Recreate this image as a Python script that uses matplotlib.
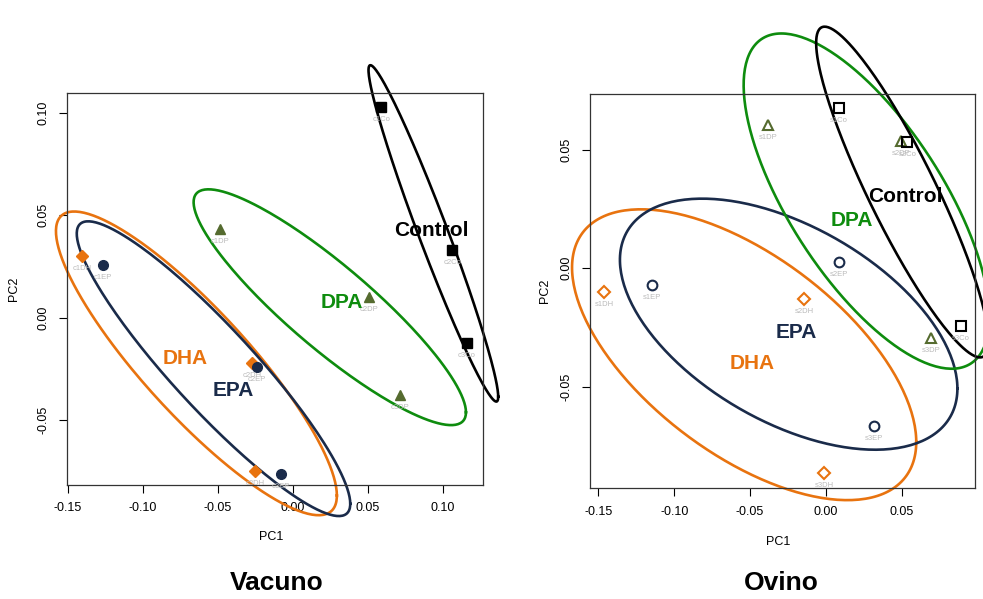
import numpy as np
import matplotlib
matplotlib.use('Agg')
import matplotlib.pyplot as plt

plt.rcParams['font.family'] = ['Liberation Sans', 'DejaVu Sans']

# group colours
col = {'DHA': '#E8730F', 'EPA': '#1A2B4A', 'DPA': '#0E8C0E', 'Control': '#000000'}
pt_col = {'DHA': '#E8730F', 'EPA': '#1A2B4A', 'DPA': '#556B2F', 'Control': '#000000'}

# --- Vacuno (PC1, PC2 per sample) ---
vac_groups = ['DHA', 'EPA', 'DPA', 'Control']
vac_names = {'DHA': ['c1DH', 'c2DH', 'c3DH'], 'EPA': ['c1EP', 'c2EP', 'c3EP'],
             'DPA': ['c1DP', 'c2DP', 'c3DP'], 'Control': ['c1Co', 'c2Co', 'c3Co']}
vac_pc1 = {'DHA': [-0.1409, -0.0271, -0.0253], 'EPA': [-0.1269, -0.0242, -0.0080],
           'DPA': [-0.0487, 0.0509, 0.0713], 'Control': [0.0587, 0.1062, 0.1158]}
vac_pc2 = {'DHA': [0.0299, -0.0220, -0.0749], 'EPA': [0.0255, -0.0241, -0.0762],
           'DPA': [0.0430, 0.0101, -0.0379], 'Control': [0.1028, 0.0329, -0.0124]}
vac_lab_pos = {'Control': (0.092, 0.0426), 'DPA': (0.0327, 0.0075),
               'DHA': (-0.072, -0.0198), 'EPA': (-0.040, -0.0355)}

# --- Ovino ---
ovi_names = {'DHA': ['s1DH', 's2DH', 's3DH'], 'EPA': ['s1EP', 's2EP', 's3EP'],
             'DPA': ['s1DP', 's2DP', 's3DP'], 'Control': ['s1Co', 's2Co', 's3Co']}
ovi_pc1 = {'DHA': [-0.1462, -0.0145, -0.0011], 'EPA': [-0.1144, 0.0088, 0.0318],
           'DPA': [-0.0384, 0.0492, 0.0692], 'Control': [0.0086, 0.0536, 0.0887]}
ovi_pc2 = {'DHA': [-0.0099, -0.0130, -0.0866], 'EPA': [-0.0071, 0.0028, -0.0665],
           'DPA': [0.0605, 0.0539, -0.0293], 'Control': [0.0676, 0.0532, -0.0242]}
ovi_lab_pos = {'Control': (0.052, 0.0305), 'DPA': (0.0171, 0.0200),
               'EPA': (-0.0198, -0.0273), 'DHA': (-0.0487, -0.0400)}

filled = {'DHA': 'D', 'EPA': 'o', 'DPA': '^', 'Control': 's'}


def ellipse(x, y, r=np.sqrt(2)):
    # data ellipse (car::dataEllipse style, level 0.5)
    c = np.cov(x, y)
    L = np.linalg.cholesky(c)
    t = np.linspace(0, 2 * np.pi, 240)
    ctr = np.array([np.mean(x), np.mean(y)])[:, None]
    return ctr + r * L @ np.vstack([np.cos(t), np.sin(t)])


def panel(ax, pc1, pc2, names, lab_pos, open_marks, xlim, ylim, xt, yt):
    for g in vac_groups:
        e = ellipse(np.array(pc1[g]), np.array(pc2[g]))
        ax.plot(e[0], e[1], color=col[g], lw=1.9, clip_on=False, zorder=2)
    for g in vac_groups:
        if open_marks:
            ax.plot(pc1[g], pc2[g], linestyle='none', marker=filled[g],
                    ms=7 if g != 'DHA' else 6, mfc='none', mec=pt_col[g], mew=1.5, zorder=3)
        else:
            ax.plot(pc1[g], pc2[g], linestyle='none', marker=filled[g],
                    ms=7 if g != 'DHA' else 6, color=pt_col[g], zorder=3)
        for xx, yy, nm in zip(pc1[g], pc2[g], names[g]):
            ax.annotate(nm, (xx, yy), xytext=(0, -9), textcoords='offset points',
                        ha='center', va='center', fontsize=5.5, color='#BBBBBB', zorder=3)
        lx, ly = lab_pos[g]
        ax.text(lx, ly, g, color=col[g], fontsize=15, fontweight='bold',
                ha='center', va='center', zorder=4)
    ax.set_xlim(*xlim)
    ax.set_ylim(*ylim)
    ax.set_xticks(xt)
    ax.set_xticklabels(['%.2f' % v for v in xt])
    ax.set_yticks(yt)
    ax.set_yticklabels(['%.2f' % v for v in yt], rotation=90, va='center')
    ax.tick_params(direction='out', length=5.5, width=0.8, labelsize=9, pad=7)
    for s in ax.spines.values():
        s.set_color('#333333')
        s.set_linewidth(0.9)
    ax.set_xlabel('PC1', fontsize=9)
    ax.set_ylabel('PC2', fontsize=9)


fig = plt.figure(figsize=(9.83, 5.99), dpi=100)
ax1 = fig.add_axes([0.0682, 0.1903, 0.4232, 0.6544])
ax2 = fig.add_axes([0.6002, 0.1848, 0.3917, 0.6583])

panel(ax1, vac_pc1, vac_pc2, vac_names, vac_lab_pos, False,
      (-0.1507, 0.1267), (-0.0817, 0.1096),
      [-0.15, -0.10, -0.05, 0.00, 0.05, 0.10], [-0.05, 0.00, 0.05, 0.10])
panel(ax2, ovi_pc1, ovi_pc2, ovi_names, ovi_lab_pos, True,
      (-0.1555, 0.0982), (-0.0929, 0.0736),
      [-0.15, -0.10, -0.05, 0.00, 0.05], [-0.05, 0.00, 0.05])

ax1.xaxis.set_label_coords(0.49, -0.118)
ax1.yaxis.set_label_coords(-0.113, 0.5)
ax2.xaxis.set_label_coords(0.49, -0.12)
ax2.yaxis.set_label_coords(-0.102, 0.5)

fig.text(277 / 983, 1 - 583 / 599, 'Vacuno', fontsize=19, fontweight='bold',
         ha='center', va='center')
fig.text(781 / 983, 1 - 583 / 599, 'Ovino', fontsize=19, fontweight='bold',
         ha='center', va='center')

fig.savefig('out.png', dpi=100)
